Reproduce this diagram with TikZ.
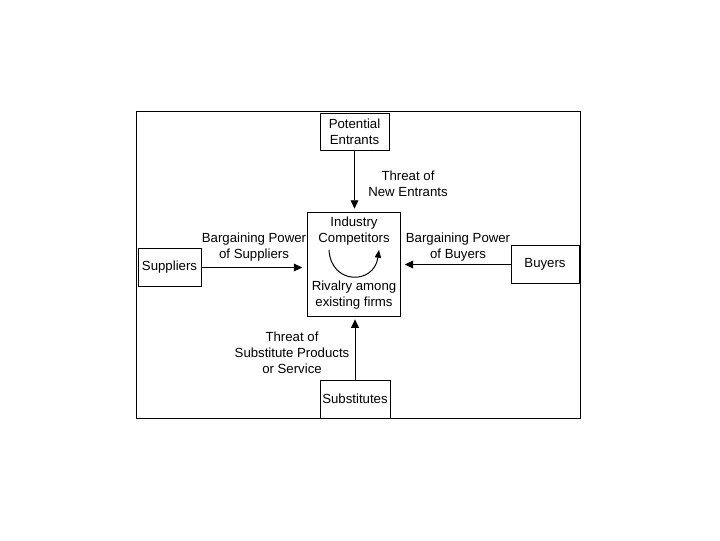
\documentclass[tikz,border=0pt]{standalone}
\usepackage{fontspec}
\setmainfont{Liberation Sans}
\usepackage{tikz}
\usetikzlibrary{arrows.meta,positioning}

\begin{document}
\begin{tikzpicture}[x=0.025cm,y=-0.025cm,
  firm/.style={draw,line width=0.7pt,inner sep=0pt,minimum height=0.95cm,
               align=center,font=\fontsize{9.4}{11.4}\selectfont},
  pwr/.style={align=center,inner sep=0pt,font=\fontsize{9.4}{11.4}\selectfont},
  arr/.style={-{Triangle[length=6pt,width=5.5pt]},line width=0.7pt},
  spin/.style={-{Triangle[length=5.5pt,width=4.5pt]},line width=0.7pt}
]
\useasboundingbox (0,0) rectangle (720,540);
\draw[line width=0.7pt] (136,111) rectangle (580,418);

% the five forces
\node[firm,minimum width=1.725cm,minimum height=0.925cm] (entrants) at (354.5,131.5) {Potential\\Entrants};
\node[firm,minimum width=2.325cm,minimum height=2.6cm] (comp) at (353.5,264) {};
\node[firm,minimum width=1.575cm] (suppliers) at (169.5,267.5) {Suppliers};
\node[firm,minimum width=1.7cm] (buyers) at (545,264.5) {Buyers};
\node[firm,minimum width=1.75cm] (subst) at (355,399) {Substitutes};

% inside the centre box
\node[pwr] (industry) at (354,231.5) {Industry\\Competitors};
\node[pwr] (rivalry) at (354,295.5) {Rivalry among\\existing firms};
\draw[spin] (329,250) .. controls (331,285) and (374,285) .. (379,250);

% labels
\node[pwr] (newthreat) at (408,183.5) {Threat of\\New Entrants};
\node[pwr] (suppower) at (254,247.5) {Bargaining Power\\of Suppliers};
\node[pwr] (buypower) at (458,247.5) {Bargaining Power\\of Buyers};
\node[pwr] (substhreat) at (292,353) {Threat of\\Substitute Products\\or Service};

% arrows
\draw[arr] (entrants.south) -- ([yshift=2]entrants.south |- comp.north);
\draw[arr] (suppliers.east) -- ([xshift=-3]suppliers.east -| comp.west);
\draw[arr] (buyers.west) -- ([xshift=3]buyers.west -| comp.east);
\draw[arr] (subst.north) -- ([yshift=-2]subst.north |- comp.south);
\end{tikzpicture}
\end{document}
